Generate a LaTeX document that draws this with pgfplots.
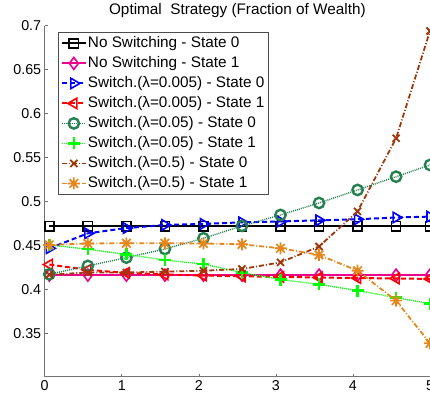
\documentclass[border=0pt]{standalone}
\usepackage{fontspec}
\setmainfont{Liberation Sans}
\usepackage{pgfplots}
\pgfplotsset{compat=1.18}
\definecolor{dkgreen}{RGB}{38,128,80}
\definecolor{brgreen}{RGB}{0,255,0}
\definecolor{brn}{RGB}{160,55,10}
\definecolor{org}{RGB}{230,135,30}
\pgfdeclareplotmark{ast8}{%
 \pgfpathmoveto{\pgfqpoint{0pt}{\pgfplotmarksize}}\pgfpathlineto{\pgfqpoint{0pt}{-\pgfplotmarksize}}%
 \pgfpathmoveto{\pgfqpoint{\pgfplotmarksize}{0pt}}\pgfpathlineto{\pgfqpoint{-\pgfplotmarksize}{0pt}}%
 \pgfpathmoveto{\pgfqpoint{0.707\pgfplotmarksize}{0.707\pgfplotmarksize}}\pgfpathlineto{\pgfqpoint{-0.707\pgfplotmarksize}{-0.707\pgfplotmarksize}}%
 \pgfpathmoveto{\pgfqpoint{0.707\pgfplotmarksize}{-0.707\pgfplotmarksize}}\pgfpathlineto{\pgfqpoint{-0.707\pgfplotmarksize}{0.707\pgfplotmarksize}}%
 \pgfusepathqstroke}
\begin{document}
\begin{tikzpicture}
\begin{axis}[
  name=ax,
  scale only axis,
  width=394.5pt, height=351pt,
  xmin=0, xmax=5.12, ymin=0.301, ymax=0.7,
  clip=false,
  clip marker paths=true,
  axis lines=left,
  axis line style={-, black!55, line width=0.6pt},
  tick align=inside,
  major tick length=3pt,
  tick style={black!55, line width=0.6pt},
  xtick={0,1,2,3,4,5}, xticklabels={0,1,2,3,4,5},
  ytick={0.35,0.4,0.45,0.5,0.55,0.6,0.65,0.7},
  yticklabels={0.35,0.4,0.45,0.5,0.55,0.6,0.65,0.7},
  /pgf/number format/assume math mode=true,
  tick label style={font=\fontsize{14.3}{16}\selectfont, black},
  title={Optimal\ \ Strategy (Fraction of Wealth)},
  title style={font=\fontsize{15.3}{18}\selectfont, at={(0.4883,1)}, anchor=base, yshift=5.7pt, inner sep=0pt},
  legend image code/.code={\draw[mark repeat=2,mark phase=2,#1] plot coordinates {(0cm,0cm) (0.42cm,0cm) (0.84cm,0cm)};},
  legend style={at={(0.03447,0.9812)}, anchor=north west,
    draw=black!70, line width=0.6pt, fill=white,
    font=\fontsize{15.3}{18}\selectfont,
    inner xsep=2.3pt, inner ysep=3.3pt, row sep=5pt,
    nodes={inner xsep=1.15pt, inner ysep=0pt, text height=11.5pt, text depth=3.5pt},
    cells={anchor=west}},
]
\coordinate (TL) at (axis cs:0,0.7);
\coordinate (BR) at (axis cs:5,0.301);
\addplot[black, line width=2pt, mark=square, mark size=4.6pt, mark options={solid, line width=1.6pt}] coordinates {
(0.06,0.472)(0.56,0.472)(1.06,0.472)(1.56,0.472)(2.06,0.472)(2.56,0.472)(3.06,0.472)(3.56,0.472)(4.06,0.472)(4.56,0.472)(5.0,0.472)};
\addlegendentry{No Switching - State 0}
\addplot[magenta, line width=2pt, mark=diamond, mark size=6pt, mark options={solid, line width=1.6pt}] coordinates {
(0.06,0.4165)(0.56,0.4165)(1.06,0.4165)(1.56,0.4165)(2.06,0.4165)(2.56,0.4165)(3.06,0.4165)(3.56,0.4165)(4.06,0.4165)(4.56,0.4165)(5.0,0.4165)};
\addlegendentry{No Switching - State 1}
\addplot[blue, line width=2pt, dash pattern=on 5pt off 3pt, mark=triangle, mark size=6pt, mark options={solid, rotate=-90, line width=1.6pt}] coordinates {
(0.06,0.447)(0.56,0.464)(1.06,0.470)(1.56,0.4735)(2.06,0.4747)(2.56,0.4765)(3.06,0.4775)(3.56,0.4788)(4.06,0.480)(4.56,0.482)(5.0,0.483)};
\addlegendentry{Switch.(λ=0.005) - State 0}
\addplot[red, line width=2pt, dash pattern=on 5pt off 3pt, mark=triangle, mark size=6pt, mark options={solid, rotate=90, line width=1.6pt}] coordinates {
(0.06,0.4285)(0.56,0.4225)(1.06,0.419)(1.56,0.4172)(2.06,0.416)(2.56,0.4152)(3.06,0.4145)(3.56,0.4138)(4.06,0.4132)(4.56,0.4127)(5.0,0.4122)};
\addlegendentry{Switch.(λ=0.005) - State 1}
\addplot[dkgreen, line width=1.4pt, dash pattern=on 1pt off 1pt, mark=o, mark size=5.2pt, mark options={solid, line width=2.4pt}] coordinates {
(0.06,0.4175)(0.56,0.427)(1.06,0.4364)(1.56,0.4462)(2.06,0.4584)(2.56,0.4724)(3.06,0.4849)(3.56,0.4985)(4.06,0.5133)(4.56,0.5284)(5.0,0.5417)};
\addlegendentry{Switch.(λ=0.05) - State 0}
\addplot[brgreen, line width=1.4pt, dash pattern=on 1pt off 1pt, mark=+, mark size=6pt, mark options={solid, line width=2.6pt}] coordinates {
(0.06,0.4508)(0.56,0.446)(1.06,0.440)(1.56,0.4337)(2.06,0.429)(2.56,0.4194)(3.06,0.4115)(3.56,0.406)(4.06,0.399)(4.56,0.391)(5.0,0.384)};
\addlegendentry{Switch.(λ=0.05) - State 1}
\addplot[brn, line width=1.8pt, dash pattern=on 5pt off 2pt on 1pt off 2pt, mark=x, mark size=5pt, mark options={solid, line width=1.8pt}] coordinates {
(0.06,0.417)(0.56,0.4195)(1.06,0.4195)(1.56,0.4205)(2.06,0.4215)(2.56,0.4235)(3.06,0.431)(3.56,0.449)(4.06,0.489)(4.56,0.572)(5.0,0.694)};
\addlegendentry{Switch.(λ=0.5) - State 0}
\addplot[org, line width=1.8pt, dash pattern=on 5pt off 2pt on 1pt off 2pt, mark=ast8, mark size=6pt, mark options={solid, line width=1.7pt}] coordinates {
(0.06,0.4508)(0.56,0.4525)(1.06,0.4527)(1.56,0.4527)(2.06,0.4525)(2.56,0.4515)(3.06,0.447)(3.56,0.4395)(4.06,0.4215)(4.56,0.3875)(5.0,0.339)};
\addlegendentry{Switch.(λ=0.5) - State 1}
\end{axis}
\pgfresetboundingbox
\path[use as bounding box] ([xshift=-44.7pt,yshift=-23.3pt]TL|-BR) rectangle ([yshift=25.7pt]BR|-TL);
\end{tikzpicture}
\end{document}
